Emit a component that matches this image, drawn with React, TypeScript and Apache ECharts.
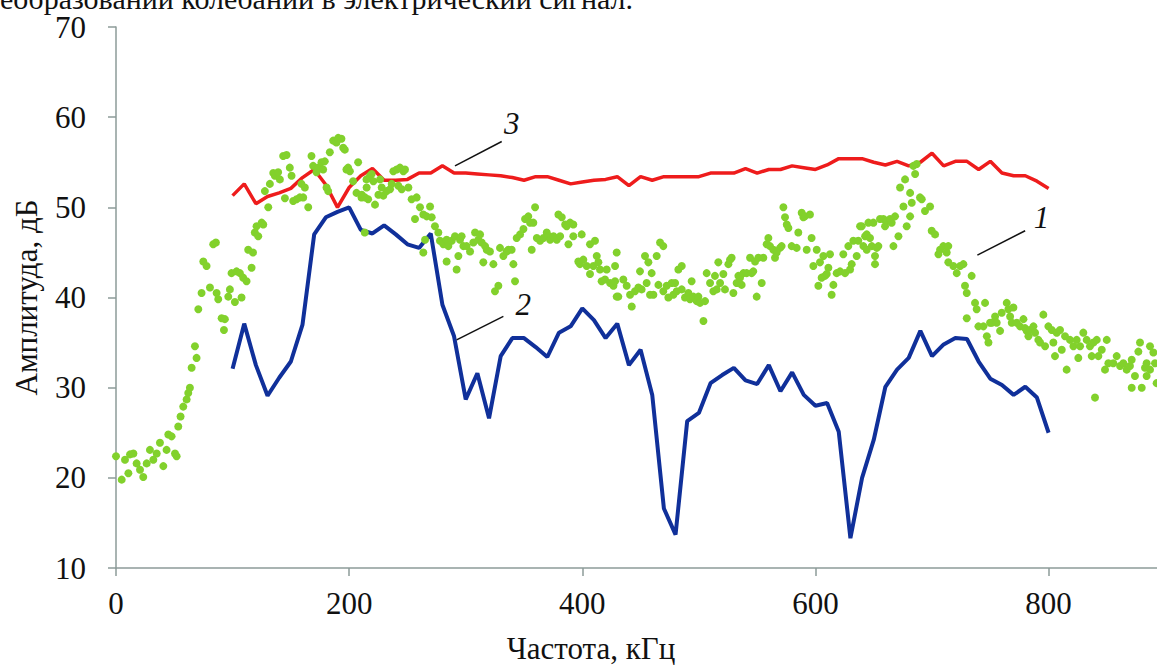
import React, { useEffect, useRef } from "react";
import * as echarts from "echarts";

// ---- axes ----
const X_TICKS = [0, 200, 400, 600, 800];
const Y_MIN = 10;
const Y_MAX = 70;
const X_MAX = 893;
const X_TITLE = "Частота, кГц";
const Y_TITLE = "Амплитуда, дБ";
const TOP_TEXT = "преобразовании колебаний в электрический сигнал.";

// ---- curves 2 and 3 (frequency, kHz) ----
const FREQ = [
  100, 110, 120, 130, 140, 150, 160, 170, 180, 190, 200,
  210, 220, 230, 240, 250, 260, 270, 280, 290, 300,
  310, 320, 330, 340, 350, 360, 370, 380, 390, 400,
  410, 420, 430, 440, 450, 460, 470, 480, 490, 500,
  510, 520, 530, 540, 550, 560, 570, 580, 590, 600,
  610, 620, 630, 640, 650, 660, 670, 680, 690, 700,
  710, 720, 730, 740, 750, 760, 770, 780, 790, 800,
];

// curve 2 (blue)
const CURVE2 = [
  32.1, 37.1, 32.5, 29.1, 31.1, 32.9, 37.0, 47.0, 48.9, 49.5, 50.0,
  47.5, 47.1, 48.0, 47.0, 45.9, 45.5, 47.1, 39.2, 35.7, 28.7,
  31.6, 26.6, 33.5, 35.5, 35.5, 34.5, 33.4, 36.1, 36.8, 38.8,
  37.5, 35.5, 37.1, 32.5, 34.2, 29.2, 16.6, 13.7, 26.3, 27.2,
  30.5, 31.4, 32.2, 30.8, 30.4, 32.5, 29.6, 31.7, 29.2, 28.0,
  28.3, 25.1, 13.3, 20.0, 24.2, 30.1, 32.0, 33.3, 36.3, 33.5,
  34.8, 35.5, 35.4, 32.9, 31.0, 30.3, 29.2, 30.1, 28.9, 25.0,
];

// curve 3 (red)
const CURVE3 = [
  51.3, 52.6, 50.4, 51.2, 51.6, 52.1, 53.3, 54.2, 52.5, 50.0, 52.2,
  53.5, 54.3, 53.0, 53.0, 53.1, 53.8, 53.8, 54.6, 53.8, 53.8,
  53.7, 53.6, 53.5, 53.3, 53.0, 53.4, 53.4, 53.0, 52.6, 52.8,
  53.0, 53.1, 53.4, 52.4, 53.4, 53.0, 53.4, 53.4, 53.4, 53.4,
  53.8, 53.8, 53.8, 54.3, 53.8, 54.2, 54.2, 54.6, 54.4, 54.2,
  54.7, 55.4, 55.4, 55.4, 55.0, 54.7, 55.1, 54.6, 55.0, 56.0,
  54.6, 55.1, 55.1, 54.2, 55.1, 53.8, 53.5, 53.5, 52.9, 52.1,
];

// curve 1 (green points): [frequency kHz, amplitude dB]
const CURVE1: [number, number][] = [
  [0, 22.4], [4.9, 19.8], [7.7, 22.0], [10.6, 20.5], [12, 22.6], [14.9, 22.7], [17.7, 21.6], [20.6, 20.9],
  [23.4, 20.1], [26.3, 21.6], [29.1, 23.1], [32, 22.0], [34.9, 22.7], [37.7, 23.9], [40.6, 21.3], [43.4, 23.1],
  [44.9, 24.8], [47.7, 24.6], [50.6, 22.7], [52, 22.4], [53.4, 25.7], [55.4, 26.8], [57.7, 27.9], [60.6, 28.7],
  [62, 29.4], [63.4, 30.0], [64.9, 32.2], [67.7, 34.6], [69.1, 33.3], [70.6, 38.7], [73.4, 40.5], [74.9, 44.0],
  [77.7, 43.5], [80.6, 41.1], [83.4, 45.9], [85.7, 46.1], [86.3, 40.5], [87.7, 39.8], [90.6, 37.7], [92.6, 36.4],
  [93.4, 37.6], [96.3, 40.1], [97.7, 40.9], [99.1, 42.7], [102, 39.5], [103.4, 42.9], [106.3, 42.7], [107.7, 40.0],
  [109.1, 42.2], [112, 41.8], [113.4, 45.3], [116.3, 43.3], [117.5, 45.0], [119.1, 47.2], [120.6, 47.9], [122, 46.8],
  [124.9, 48.3], [126.3, 48.1], [127.7, 51.8], [130.6, 50.0], [132, 52.6], [134.9, 53.8], [136.3, 53.5], [139.1, 53.9],
  [140.6, 53.1], [143.4, 55.7], [144.9, 51.0], [146.3, 55.8], [149.1, 54.4], [150.6, 53.5], [152, 50.7], [154.9, 50.9],
  [157.7, 51.1], [159.1, 52.6], [160.6, 51.1], [162, 52.2], [164.9, 50.0], [167.7, 55.7], [169.1, 54.6], [172, 53.9],
  [173.4, 54.4], [176.3, 55.0], [177.7, 54.2], [179.1, 55.1], [180.6, 52.2], [182, 51.8], [183.4, 56.1], [186.3, 57.4],
  [189.1, 57.2], [190.6, 57.7], [193.4, 57.6], [194.9, 56.6], [196.3, 56.4], [197.7, 54.2], [199.1, 54.4], [200.6, 54.0],
  [203.4, 52.9], [206.3, 51.6], [207.7, 55.0], [210.6, 51.1], [213.4, 47.2], [214.9, 53.1], [216.3, 50.9],
  [210.8, 51.4], [213.6, 51.1], [215, 52.2], [217.9, 53.5], [219.3, 53.7], [220.8, 52.9], [222.2, 50.3], [225.1, 51.4],
  [226.5, 53.1], [227.9, 52.2], [229.3, 51.3], [232.2, 51.8], [235.1, 52.0], [236.5, 52.6], [237.9, 54.0], [240.8, 54.2],
  [242.2, 52.4], [243.6, 54.4], [245.1, 52.0], [246.5, 54.0], [247.9, 54.2], [250.8, 52.2], [253.6, 50.9], [256.5, 48.7],
  [257.9, 51.1], [260.8, 50.0], [263.6, 49.2], [263.6, 45.0], [265.1, 46.4], [266.5, 49.0], [269.4, 50.1], [270.8, 48.9],
  [273.6, 47.9], [276.5, 47.2], [277.9, 46.3], [280.8, 45.9], [283.6, 46.4], [283.6, 44.0], [285.1, 45.7], [288, 46.3],
  [290.8, 46.8], [292.2, 43.1], [293.7, 44.6], [295.1, 46.4], [296.5, 46.8], [298, 45.7], [300.8, 45.7], [303.7, 45.1],
  [306.5, 46.1], [308, 47.2], [310.8, 46.4], [312.3, 47.0], [313.7, 46.1], [315.1, 43.9], [316.6, 45.7], [318, 45.3],
  [320.8, 45.1], [323.7, 43.7], [325.1, 40.7], [328, 41.3], [329.4, 45.5], [332.3, 44.6], [335.1, 45.1], [336.6, 45.3],
  [339.4, 45.3], [340.9, 43.7], [342.3, 41.8], [343.7, 46.6], [346.6, 47.0], [349.5, 47.6], [350.9, 48.7], [353.7, 49.0],
  [355.2, 48.3], [356.6, 45.3], [358, 48.3], [359.5, 50.0], [361, 46.6], [363.8, 46.3], [366.7, 46.6], [369.5, 47.2],
  [371, 46.8], [372.4, 46.4], [375.3, 46.8], [378.1, 46.4], [379.5, 49.2], [381, 46.8], [382.4, 48.9], [385.3, 48.1],
  [386.6, 47.9], [388.1, 45.9], [389.5, 48.3], [392.3, 48.1], [392.3, 46.8], [396.6, 44.0], [398, 43.7], [399.5, 47.0],
  [400.9, 44.2], [403.8, 43.5], [406.6, 42.6], [406.6, 45.9], [409.5, 43.5], [410.9, 46.3], [412.4, 44.6], [413.8, 43.9],
  [415.2, 43.1], [416.6, 41.8], [419.5, 42.0], [420.9, 43.1], [423.8, 41.6], [426.7, 41.3], [428.1, 43.5], [429.5, 40.1],
  [429.5, 45.0], [428.1, 41.8], [430.9, 40.1], [435.2, 42.0], [438.1, 41.3], [441, 40.3], [442.4, 39.0], [445.2, 40.7],
  [448.1, 41.1], [449.5, 42.9], [450.9, 40.9], [453.8, 44.6], [455.2, 41.6], [456.7, 43.9], [458.1, 40.3], [459.5, 42.7],
  [461, 40.3], [463.8, 44.6], [465.3, 41.4], [466.7, 46.1], [469.5, 45.7], [469.5, 40.7], [472.4, 41.3], [473.8, 40.0],
  [476.7, 41.6], [478.1, 40.3], [479.6, 41.6], [481, 40.7], [482.4, 43.1], [485.3, 43.5], [485.3, 40.9], [488.1, 40.0],
  [491, 40.5], [492.4, 39.8], [493.8, 41.8], [495.3, 40.1], [498.1, 39.6], [499.6, 40.1], [501, 39.4], [503.9, 37.4],
  [505.3, 39.6], [506.7, 42.7], [509.6, 41.6], [512.4, 40.7], [513.8, 42.4], [515.3, 40.9], [516.7, 43.9], [518.2, 41.6],
  [521, 42.6], [522.4, 40.9], [525.3, 43.7], [526.7, 44.2], [528.1, 44.4], [529.6, 40.5], [532.4, 41.6], [533.9, 42.4],
  [535.3, 42.2], [536.7, 41.4], [538.2, 42.7], [541, 42.7], [543.9, 44.4], [545.3, 42.7], [546.7, 42.9], [548.2, 44.0],
  [549.6, 40.1], [551, 44.4], [553.9, 41.6], [555.3, 44.4], [558.2, 45.9], [559.6, 46.6], [561, 45.7], [563.9, 45.3],
  [565.3, 44.4], [566.7, 45.0], [569.6, 45.5], [571, 45.7], [572.5, 50.0], [573.9, 48.9], [575.4, 48.1], [576.8, 47.7],
  [579.6, 45.7], [583.9, 45.5], [585.3, 47.2], [588.2, 49.4], [589.6, 48.9], [591, 49.0], [592.5, 45.3], [595.3, 49.2],
  [596.7, 46.6], [598.2, 43.5], [601.1, 45.3], [602.5, 41.3], [603.9, 43.9], [605.3, 42.2], [606.8, 44.6], [608.2, 42.4],
  [609.7, 42.6], [611.1, 43.3], [612.5, 44.8], [613.9, 40.3], [615.4, 41.4], [618.2, 42.7], [621.1, 42.9], [623.9, 44.8],
  [625.4, 42.7], [628.2, 45.7], [629.7, 43.1], [631.1, 43.7], [632.5, 46.3], [635.4, 44.6], [636.8, 46.3], [638.3, 47.9],
  [639.7, 47.9], [641.1, 45.7], [642.6, 46.8], [644, 45.3], [644, 47.0], [645.4, 48.3], [646.8, 46.6], [648.3, 45.7],
  [649.7, 48.3], [651.1, 44.6], [651.1, 43.7], [652.6, 45.5], [654, 45.7], [655.4, 48.7], [658.3, 48.7], [659.7, 47.9],
  [661.1, 48.5], [664, 48.7], [665.4, 48.3], [666.9, 45.7], [668.3, 49.0], [671.2, 46.8], [672.6, 52.2], [675.5, 50.1],
  [676.9, 53.1], [678.3, 47.9], [681.2, 49.0], [681.2, 51.6], [682.6, 50.5], [684, 54.6], [685.5, 53.7], [686.9, 54.8],
  [689.7, 51.1], [691.2, 50.9], [694, 49.6], [698.3, 50.1], [699.7, 47.4], [702.6, 47.0], [705.5, 44.8], [706.9, 45.3],
  [709.7, 45.7], [712.6, 45.0], [714, 45.7], [714, 43.9], [718.3, 43.5], [721.2, 42.7], [724.1, 43.5], [726.9, 43.7],
  [728.3, 41.3], [729.8, 40.5], [729.8, 37.7], [734, 42.4], [736.9, 39.4], [738.3, 38.7], [739.8, 36.8], [744.1, 36.8],
  [745.5, 39.4], [747, 35.7], [748.4, 35.0], [749.8, 37.2], [751.3, 37.2], [754.1, 37.9], [755.5, 37.2], [758.4, 36.3],
  [759.8, 38.3], [764.1, 39.4], [765.5, 38.7], [767, 37.9], [768.4, 37.2], [769.8, 38.9], [772.7, 37.2], [775.5, 36.8],
  [778.4, 37.6], [779.8, 36.6], [781.2, 36.3], [782.7, 35.7], [784.1, 36.4], [787, 36.8], [788.4, 36.1], [791.2, 35.3],
  [792.7, 35.0], [795.5, 38.1], [797, 34.6], [799.8, 36.8], [802.7, 36.4], [804.1, 35.0], [805.5, 33.5], [807, 36.1],
  [809.8, 36.4], [811.3, 34.2], [814.1, 35.7], [815.5, 32.0], [818.4, 35.3], [821.3, 34.6], [824.1, 35.3], [825.5, 33.3],
  [827, 34.6], [829.8, 36.1], [832.7, 35.3], [835.5, 34.6], [837, 33.5], [838.4, 35.0], [839.8, 28.9], [841.3, 35.3],
  [842.7, 33.5], [845.6, 34.2], [848.4, 32.0], [849.9, 35.3], [851.3, 32.7], [855.5, 32.7], [858.4, 33.5], [861.3, 32.4],
  [864.1, 32.7], [867, 32.0], [869.8, 32.4], [871.3, 33.1], [871.3, 30.0], [874.1, 31.3], [877, 34.0], [878.4, 35.0],
  [879.9, 30.0], [882.7, 32.2], [884.1, 32.7], [884.1, 31.3], [887, 34.6], [887, 32.0], [889.9, 33.9], [891.3, 32.7],
  [892.7, 30.5],
];

// curve labels with leader lines (data coordinates)
const CURVE_LABELS = ["1", "2", "3"];
const LABEL_AT: [number, number][] = [[794, 48.9], [349.4, 39.2], [339.4, 59.3]];
const LEADER_FROM: [number, number][] = [[738.9, 44.7], [292.2, 35.3], [290.8, 54.6]];
const LEADER_TO: [number, number][] = [[779.9, 47.4], [332.3, 37.9], [330.9, 57.3]];

const FONT = "'Liberation Serif', 'Times New Roman', serif";
const AXIS_COLOR = "#8d9b99";

export default function App() {
  const ref = useRef<HTMLDivElement>(null);

  useEffect(() => {
    if (!ref.current) return;
    const chart = echarts.init(ref.current, null, { renderer: "svg" });
    const option: any = {
      animation: false,
      backgroundColor: "#ffffff",
      grid: { left: 116, top: 27, right: 0, bottom: 98, containLabel: false },
      xAxis: {
        type: "value",
        min: 0,
        max: X_MAX,
        interval: 200,
        axisLine: { show: true, lineStyle: { color: AXIS_COLOR, width: 1.5 } },
        axisTick: { show: true, length: 8, lineStyle: { color: AXIS_COLOR, width: 1.5 }, customValues: X_TICKS },
        axisLabel: { margin: 20, fontSize: 31, fontFamily: FONT, color: "#111", customValues: X_TICKS },
        splitLine: { show: false },
      },
      yAxis: {
        type: "value",
        min: Y_MIN,
        max: Y_MAX,
        interval: 10,
        name: Y_TITLE,
        nameLocation: "middle",
        nameRotate: 90,
        nameGap: 74,
        nameTextStyle: { fontSize: 31, fontFamily: FONT, color: "#111" },
        axisLine: { show: true, lineStyle: { color: AXIS_COLOR, width: 1.5 } },
        axisTick: { show: true, length: 8, lineStyle: { color: AXIS_COLOR, width: 1.5 } },
        axisLabel: { margin: 30, fontSize: 31, fontFamily: FONT, color: "#111" },
        splitLine: { show: false },
      },
      series: [
        {
          name: "3",
          type: "line",
          data: FREQ.map((f, i) => [f, CURVE3[i]]),
          showSymbol: false,
          symbol: "none",
          lineStyle: { color: "#ee1c1c", width: 3.5 },
          z: 2,
        },
        {
          name: "2",
          type: "line",
          data: FREQ.map((f, i) => [f, CURVE2[i]]),
          showSymbol: false,
          symbol: "none",
          lineStyle: { color: "#10309a", width: 4 },
          z: 2,
        },
        {
          name: "1",
          type: "scatter",
          data: CURVE1,
          symbol: "circle",
          symbolSize: 8,
          itemStyle: { color: "#82d12c", opacity: 1 },
          z: 3,
        },
      ],
    };
    chart.setOption(option);

    const px = (p: [number, number]) => chart.convertToPixel({ gridIndex: 0 }, p) as number[];
    const graphics: any[] = [];
    CURVE_LABELS.forEach((label, i) => {
      const a = px(LEADER_FROM[i]);
      const b = px(LEADER_TO[i]);
      const t = px(LABEL_AT[i]);
      graphics.push({
        type: "line",
        shape: { x1: a[0], y1: a[1], x2: b[0], y2: b[1] },
        style: { stroke: "#111", lineWidth: 1.5 },
        z: 10,
      });
      graphics.push({
        type: "text",
        x: t[0],
        y: t[1],
        style: {
          text: label,
          fontFamily: FONT,
          fontStyle: "italic",
          fontSize: 31,
          fill: "#111",
          align: "center",
          verticalAlign: "middle",
        },
        z: 10,
      });
    });
    graphics.push({
      type: "text",
      x: 591,
      y: 648,
      style: {
        text: X_TITLE,
        fontFamily: FONT,
        fontSize: 31,
        fill: "#111",
        align: "center",
        verticalAlign: "middle",
      },
    });
    graphics.push({
      type: "text",
      x: -31,
      y: -2,
      style: {
        text: TOP_TEXT,
        fontFamily: FONT,
        fontSize: 30,
        fill: "#111",
        align: "left",
        verticalAlign: "middle",
      },
    });
    chart.setOption({ graphic: graphics });

    return () => chart.dispose();
  }, []);

  return (
    <div
      ref={ref}
      style={{ position: "absolute", left: 0, top: 0, width: 1157, height: 666 }}
    />
  );
}
